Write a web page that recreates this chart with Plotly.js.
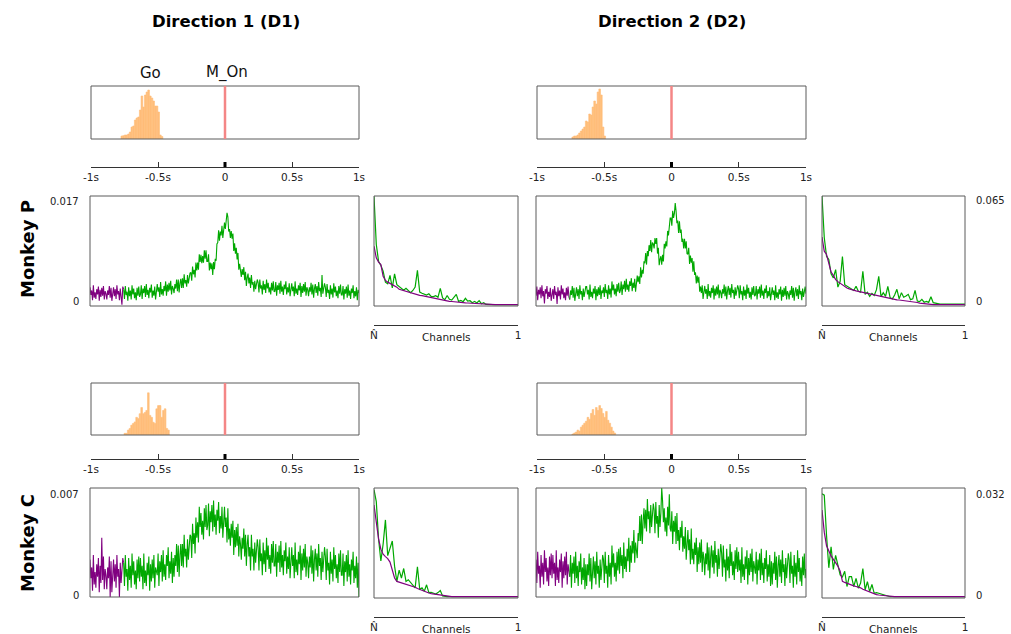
<!DOCTYPE html>
<html>
<head>
<meta charset="utf-8">
<script src="https://cdn.plot.ly/plotly-3.0.1.min.js"></script>
<style>
  html, body { margin: 0; padding: 0; background: #fff; }
  #chart { width: 1011px; height: 634px; }
</style>
</head>
<body>
<div id="chart"></div>
<script>
// ---------------------------------------------------------------
// Data (activity values are in units of 1e-3)
// ---------------------------------------------------------------
const moveOnset = 0;          // M_On, seconds
const baselineEnd = -0.75;    // end of the purple baseline window, seconds
const activityStep = 0.00625; // spacing of the activity samples, seconds
const binWidth = 0.0125;      // Go-cue histogram bin width, seconds
const timeTicks = [-1, -0.5, 0, 0.5, 1];
const timeTickText = ['-1s', '-0.5s', '0', '0.5s', '1s'];
const channelTickText = ['N\u0302', '1'];

// Go-cue time histograms (first bin centre, then counts per bin)
const histStarts = [-0.77, -0.734, -0.747, -0.734];
const histP1 = [3.0, 3.3, 4.0, 4.0, 5.0, 7, 12, 13, 19, 21, 22, 29, 43, 32, 44, 47, 49, 43, 41, 38, 33, 33, 27, 4, 2.5];
const histP2 = [2, 3, 3, 4, 6, 8, 10, 12, 18, 17, 25, 24, 32, 38, 35, 47, 50, 44, 12, 3];
const histC1 = [1.7, 1.7, 5, 6.7, 10, 11.7, 13.3, 18, 16.7, 21.7, 28, 21.7, 23, 25, 43, 20, 18, 13, 11.7, 26.7, 30, 30, 18, 25, 26.7, 6.7, 5];
const histC2 = [1, 2, 3, 5, 4, 8, 10, 12, 14, 18, 16, 22, 26, 20, 28, 25, 30, 27, 22, 18, 24, 15, 12, 8, 4, 2];

// Baseline activity, -1 s to -0.75 s
const baseP1 = [
  2.9, 1.7, 2.4, 0.9, 3.2, 1.3, 2.1, 1.1, 2.6, 1.8, 3.0, 0.8, 2.5, 1.4, 2.8, 1.6, 3.1, 1.0, 2.3, 1.9,
  1.0, 2.4, 1.7, 3.1, 1.3, 2.8, 0.8, 2.2, 2.9, 1.5, 2.6, 1.1, 3.2, 1.8, 2.3, 0.9, 2.7, 1.4, 0.2, 3.0,
  2.6
];
const baseP2 = [
  1.6, 3.0, 0.9, 2.5, 1.8, 2.9, 1.2, 3.2, 1.5, 2.3, 0.4, 2.6, 1.9, 3.1, 1.1, 2.2, 1.4, 2.8, 0.8, 2.4,
  2.6, 1.1, 3.1, 1.7, 2.2, 0.3, 2.9, 1.5, 2.4, 1.0, 3.2, 1.8, 2.7, 1.2, 2.1, 0.9, 2.8, 1.6, 3.0, 1.4,
  1.0
];
const baseC1 = [
  2.4, 1.2, 1.9, 0.4, 2.7, 0.8, 1.6, 0.6, 2.1, 1.3, 2.5, 0.3, 2.0, 0.9, 3.8, 1.1, 2.6, 0.5, 1.8, 1.4,
  0.5, 1.9, 1.2, 2.6, 0.0, 2.3, 0.3, 1.7, 2.4, 1.0, 2.1, 0.6, 2.7, 1.3, 1.8, 0.0, 2.2, 0.9, 2.0, 2.5,
  2.2
];
const baseC2 = [
  2.4, 0.9, 2.9, 1.5, 2.0, 0.6, 2.7, 1.3, 2.2, 0.8, 3.0, 1.6, 2.5, 1.0, 1.9, 0.7, 2.6, 1.4, 2.8, 1.2,
  2.7, 1.5, 2.2, 0.7, 3.0, 1.1, 1.9, 0.9, 2.4, 1.6, 2.8, 0.6, 2.3, 1.2, 2.6, 1.4, 2.9, 0.8, 2.1, 1.7,
  1.3
];

// Task activity, -0.75 s to 1 s (one row = 0.125 s)
const actP1 = [
  2.6, 1.1, 3.1, 1.7, 2.2, 0.8, 2.9, 1.5, 2.4, 1.0, 3.2, 1.8, 2.7, 1.2, 2.1, 0.9, 2.8, 1.6, 3.0, 1.4,
  1.8, 3.2, 1.1, 2.7, 2.0, 3.1, 1.4, 3.4, 1.7, 2.5, 1.2, 2.8, 2.1, 3.3, 1.3, 2.4, 1.6, 3.0, 1.0, 2.6,
  3.4, 2.2, 2.9, 1.4, 3.7, 1.8, 2.6, 1.6, 3.1, 2.3, 3.8, 1.6, 3.3, 2.2, 3.6, 2.4, 3.9, 1.8, 3.1, 2.7,
  2.0, 3.4, 2.7, 4.1, 2.3, 4.1, 2.1, 3.5, 4.2, 2.8, 4.3, 2.8, 4.9, 3.5, 4.0, 3.0, 4.8, 3.5, 4.6, 5.1,
  5.2, 3.9, 6.1, 4.9, 5.6, 4.4, 6.7, 5.5, 6.7, 5.6, 8.0, 6.8, 7.9, 6.6, 7.7, 6.7, 8.6, 7.3, 8.6, 6.9,
  6.9, 8.0, 5.5, 6.7, 5.7, 6.6, 4.8, 6.8, 5.7, 7.3, 7.0, 9.6, 9.8, 11.7, 10.1, 11.5, 10.9, 12.4, 10.5, 12.2,
  12.9, 11.9, 13.0, 14.4, 13.8, 11.5, 11.9, 10.5, 11.6, 10.4, 11.2, 8.5, 9.7, 8.1, 9.0, 7.2, 8.2, 5.6, 6.5, 5.7,
  4.5, 5.7, 4.8, 6.0, 4.0, 5.3, 3.1, 4.4, 5.0, 3.5, 4.4, 2.8, 4.8, 3.3, 3.7, 2.2, 3.9, 2.6, 3.6, 4.1,
  3.6, 2.1, 4.1, 2.7, 3.2, 1.8, 3.9, 2.5, 3.4, 2.0, 4.1, 2.7, 3.6, 2.1, 2.9, 1.8, 3.6, 2.4, 3.8, 2.2,
  2.3, 3.7, 1.6, 3.2, 2.5, 3.6, 1.9, 3.9, 2.2, 3.0, 1.7, 3.3, 2.6, 3.8, 1.8, 2.9, 2.1, 3.5, 1.5, 3.1,
  3.5, 2.3, 3.0, 1.5, 3.8, 1.9, 2.7, 1.7, 3.2, 2.4, 3.6, 1.4, 3.1, 2.0, 3.4, 2.2, 3.7, 1.6, 2.9, 2.5,
  1.5, 2.9, 2.2, 3.6, 1.8, 3.3, 1.3, 2.7, 3.4, 2.0, 3.1, 1.6, 3.7, 2.3, 2.8, 1.4, 4.8, 1.9, 3.0, 3.5,
  2.9, 1.4, 3.4, 2.0, 2.5, 1.1, 3.2, 1.8, 2.7, 1.3, 3.5, 2.1, 3.0, 1.5, 2.4, 1.2, 3.1, 1.9, 3.3, 1.7,
  1.7, 3.1, 1.0, 2.6, 1.9, 3.0, 1.3, 3.3, 1.6, 2.4, 1.1, 2.7, 2.0, 3.2, 1.2, 2.3, 1.5, 2.9, 0.9, 2.5,
  2.0
];
const actP2 = [
  1.0, 2.4, 1.7, 3.1, 1.3, 2.8, 0.8, 2.2, 2.9, 1.5, 2.6, 1.1, 3.2, 1.8, 2.3, 0.9, 2.7, 1.4, 2.5, 3.0,
  3.0, 1.8, 2.5, 1.0, 3.3, 1.4, 2.2, 1.2, 2.7, 1.9, 3.1, 0.9, 2.6, 1.5, 2.9, 1.7, 3.2, 1.1, 2.4, 2.0,
  2.9, 1.4, 3.4, 2.0, 2.5, 1.1, 3.2, 1.8, 2.7, 1.3, 3.8, 2.4, 3.3, 1.8, 2.7, 1.5, 3.4, 2.2, 3.6, 2.0,
  2.4, 3.8, 1.7, 3.3, 2.6, 3.9, 2.2, 4.2, 2.5, 3.3, 2.2, 3.8, 3.1, 4.3, 2.3, 3.6, 2.8, 4.2, 2.2, 3.8,
  4.7, 3.7, 4.6, 3.4, 6.0, 4.4, 5.6, 5.0, 6.9, 6.6, 8.2, 6.4, 8.5, 7.7, 9.4, 8.5, 10.2, 8.3, 9.8, 9.6,
  8.9, 10.5, 9.6, 10.5, 8.1, 9.0, 6.3, 7.2, 7.7, 6.4, 7.9, 6.9, 9.6, 8.9, 10.0, 9.2, 11.6, 10.9, 12.6, 13.6,
  13.6, 12.4, 14.7, 13.6, 14.3, 15.9, 14.7, 12.8, 13.2, 11.3, 13.1, 11.3, 11.8, 9.9, 10.4, 8.9, 10.4, 8.9, 10.0, 8.1,
  8.0, 9.0, 6.5, 7.8, 6.7, 7.4, 5.3, 6.9, 4.8, 5.2, 3.5, 4.7, 3.6, 4.5, 2.2, 3.0, 2.0, 3.2, 1.1, 2.6,
  3.1, 1.9, 2.6, 1.1, 3.4, 1.5, 2.3, 1.3, 2.8, 2.0, 3.2, 1.0, 2.7, 1.6, 3.0, 1.8, 3.3, 1.2, 2.5, 2.1,
  1.2, 2.6, 1.9, 3.3, 1.5, 3.0, 1.0, 2.4, 3.1, 1.7, 2.8, 1.3, 3.4, 2.0, 2.5, 1.1, 2.9, 1.6, 2.7, 3.2,
  2.7, 1.2, 3.2, 1.8, 2.3, 0.9, 3.0, 1.6, 2.5, 1.1, 3.3, 1.9, 2.8, 1.3, 2.2, 1.0, 2.9, 1.7, 3.1, 1.5,
  1.7, 3.1, 1.0, 2.6, 1.9, 3.0, 1.3, 3.3, 1.6, 2.4, 1.1, 2.7, 2.0, 3.2, 1.2, 2.3, 1.5, 2.9, 0.9, 2.5,
  2.9, 1.7, 2.4, 0.9, 3.2, 1.3, 2.1, 1.1, 2.6, 1.8, 3.0, 0.8, 2.5, 1.4, 2.8, 1.6, 3.1, 1.0, 2.3, 1.9,
  1.0, 2.4, 1.7, 3.1, 1.3, 2.8, 0.8, 2.2, 2.9, 1.5, 2.6, 1.1, 3.2, 1.8, 2.3, 0.9, 2.7, 1.4, 2.5, 3.0,
  1.9
];
const actC1 = [
  2.2, 0.7, 2.7, 1.3, 1.8, 0.4, 2.5, 1.1, 2.0, 0.6, 2.8, 1.4, 2.3, 0.8, 1.7, 0.5, 2.4, 1.2, 2.6, 1.0,
  2.5, 1.3, 2.0, 0.5, 2.8, 0.9, 1.7, 0.7, 2.2, 1.4, 2.6, 0.4, 2.1, 1.0, 2.4, 1.2, 2.7, 0.6, 1.9, 1.5,
  1.4, 2.8, 0.7, 2.3, 1.6, 2.7, 1.0, 3.0, 1.3, 2.1, 1.1, 2.7, 2.0, 3.2, 1.2, 2.3, 1.5, 2.9, 0.9, 2.5,
  1.3, 2.7, 2.0, 3.4, 1.6, 3.3, 1.3, 2.7, 3.4, 2.0, 3.4, 1.9, 4.0, 2.6, 3.1, 1.9, 3.7, 2.4, 3.5, 4.0,
  3.9, 2.5, 4.7, 3.4, 4.1, 2.8, 5.1, 3.8, 4.8, 3.5, 5.8, 4.5, 5.4, 4.0, 4.9, 3.7, 5.7, 4.5, 5.9, 4.3,
  4.6, 6.0, 3.9, 5.5, 4.8, 5.9, 4.2, 6.2, 4.5, 5.3, 4.0, 5.6, 4.9, 6.1, 4.1, 5.2, 4.4, 5.8, 3.8, 5.4,
  5.8, 4.5, 5.1, 3.5, 5.7, 3.7, 4.4, 3.3, 4.7, 3.8, 4.9, 2.7, 4.3, 3.2, 4.5, 3.3, 4.7, 2.6, 3.9, 3.4,
  2.4, 3.8, 3.1, 4.4, 2.6, 4.0, 2.0, 3.4, 4.0, 2.6, 3.2, 1.7, 4.0, 2.6, 3.1, 1.7, 3.5, 2.2, 3.2, 3.7,
  3.2, 1.7, 3.7, 2.3, 2.8, 1.4, 3.5, 2.1, 3.0, 1.6, 3.8, 2.4, 3.3, 1.8, 2.7, 1.5, 3.4, 2.2, 3.6, 2.0,
  2.0, 3.4, 1.3, 2.9, 2.2, 3.3, 1.6, 3.6, 1.9, 2.7, 1.4, 3.0, 2.3, 3.5, 1.5, 2.6, 1.8, 3.2, 1.2, 2.8,
  3.2, 2.0, 2.7, 1.2, 3.5, 1.6, 2.4, 1.4, 2.9, 2.1, 3.3, 1.1, 2.8, 1.7, 3.1, 1.9, 3.4, 1.3, 2.6, 2.2,
  1.2, 2.6, 1.9, 3.3, 1.5, 3.0, 1.0, 2.4, 3.1, 1.7, 2.8, 1.3, 3.4, 2.0, 2.5, 1.1, 2.9, 1.6, 2.7, 3.2,
  2.6, 1.1, 3.1, 1.7, 2.2, 0.8, 2.9, 1.5, 2.4, 1.0, 3.2, 1.8, 2.7, 1.2, 2.1, 0.9, 2.8, 1.6, 3.0, 1.4,
  1.4, 2.8, 0.7, 2.3, 1.6, 2.7, 1.0, 3.0, 1.3, 2.1, 0.8, 2.4, 1.7, 2.9, 0.9, 2.0, 1.2, 2.6, 0.6, 2.2,
  0.0
];
const actC2 = [
  1.3, 2.7, 0.6, 2.2, 1.5, 2.6, 0.9, 2.9, 1.2, 2.0, 0.7, 2.3, 1.6, 2.8, 0.8, 1.9, 1.1, 2.5, 0.5, 2.1,
  0.7, 2.1, 1.4, 2.8, 1.0, 2.5, 0.5, 1.9, 2.6, 1.2, 2.3, 0.8, 2.9, 1.5, 2.0, 0.6, 2.4, 1.1, 2.2, 2.7,
  2.4, 0.9, 2.9, 1.5, 2.0, 0.6, 2.7, 1.3, 2.2, 0.8, 3.3, 1.9, 2.8, 1.3, 2.2, 1.0, 2.9, 1.7, 3.1, 1.5,
  3.2, 2.0, 2.7, 1.2, 3.5, 1.8, 2.6, 1.6, 3.1, 2.3, 3.8, 1.6, 3.3, 2.2, 3.6, 2.8, 4.3, 2.2, 3.5, 3.1,
  2.5, 4.1, 3.6, 5.2, 3.6, 5.3, 3.4, 4.9, 5.7, 4.4, 5.6, 4.2, 6.3, 5.0, 5.5, 4.1, 5.9, 4.5, 5.6, 6.0,
  5.6, 4.1, 6.1, 4.7, 5.2, 3.8, 5.9, 4.5, 5.4, 7.0, 6.2, 4.8, 5.7, 4.2, 5.1, 3.9, 5.8, 4.6, 6.6, 4.4,
  4.2, 5.5, 3.4, 4.9, 4.2, 5.2, 3.4, 5.4, 3.6, 4.3, 3.0, 4.5, 3.8, 4.9, 2.9, 3.9, 3.1, 4.5, 2.4, 4.0,
  4.3, 3.0, 3.7, 2.1, 4.4, 2.4, 3.1, 2.1, 3.5, 2.7, 3.8, 1.6, 3.2, 2.1, 3.5, 2.2, 3.7, 1.6, 2.9, 2.5,
  1.4, 2.8, 2.1, 3.5, 1.7, 3.2, 1.2, 2.6, 3.3, 1.9, 3.0, 1.5, 3.6, 2.2, 2.7, 1.3, 3.1, 1.8, 2.9, 3.4,
  2.8, 1.3, 3.3, 1.9, 2.4, 1.0, 3.1, 1.7, 2.6, 1.2, 3.4, 2.0, 2.9, 1.4, 2.3, 1.1, 3.0, 1.8, 3.2, 1.6,
  2.9, 1.7, 2.4, 0.9, 3.2, 1.3, 2.1, 1.1, 2.6, 1.8, 3.0, 0.8, 2.5, 1.4, 2.8, 1.6, 3.1, 1.0, 2.3, 1.9,
  1.5, 2.9, 0.8, 2.4, 1.7, 2.8, 1.1, 3.1, 1.4, 2.2, 0.9, 2.5, 1.8, 3.0, 1.0, 2.1, 1.3, 2.7, 0.7, 2.3,
  0.8, 2.2, 1.5, 2.9, 1.1, 2.6, 0.6, 2.0, 2.7, 1.3, 2.4, 0.9, 3.0, 1.6, 2.1, 0.7, 2.5, 1.2, 2.3, 2.8,
  2.4, 0.9, 2.9, 1.5, 2.0, 0.6, 2.7, 1.3, 2.2, 0.8, 3.0, 1.6, 2.5, 1.0, 1.9, 0.7, 2.6, 1.4, 2.8, 1.2,
  1.8
];

// Per-channel contributions, sorted from channel N-hat down to 1
const chanBaseP1 = [35, 28, 25.5, 24, 17, 14.5, 13.5, 12.8, 12, 11.5, 10.5, 9.2, 8.8, 8.4, 7.8, 7.2, 6.8, 6.5, 6.2, 5.9,
  5.6, 5.4, 5.1, 4.9, 4.6, 4.3, 4.0, 3.7, 3.3, 3.0, 2.6, 2.4, 2.2, 2.0, 1.9, 1.7, 1.6, 1.5, 1.3, 1.2,
  1.1, 1.0, 0.9, 0.7, 0.6, 0.4, 0.3, 0.2, 0.1, 0.05, 0, 0, 0, 0, 0, 0, 0, 0, 0, 0, 0, 0, 0, 0];
const chanActP1 = [64.8, 36, 26, 23.5, 20, 13.5, 12.5, 17.5, 10, 18.5, 12, 11, 9.5, 8.6, 9.8, 8.4, 7.2, 8.5, 10.5, 20.5,
  7.5, 6.8, 6.2, 5.8, 6.5, 5.0, 4.8, 5.4, 4.5, 9.8, 4.0, 3.0, 5.5, 3.2, 2.8, 4.2, 6.2, 2.0, 2.5, 1.8,
  3.8, 2.2, 2.4, 1.2, 2.0, 1.0, 2.4, 0.6, 1.2, 0.2, 0, 0, 0, 0, 0, 0, 0, 0, 0, 0, 0, 0, 0, 0];
const chanBaseP2 = [40.5, 32, 30, 25, 19.5, 17.5, 15, 13.8, 12.8, 11.8, 10.8, 10, 9.5, 9.0, 8.6, 8.3, 8.0, 7.7, 7.3, 7.0,
  6.6, 6.3, 6.0, 5.6, 5.3, 5.0, 4.7, 4.4, 4.1, 3.8, 3.6, 3.4, 3.1, 2.9, 2.8, 2.6, 2.5, 2.4, 2.3, 2.2,
  2.0, 1.7, 1.3, 0.9, 0.7, 0.5, 0.3, 0.2, 0.1, 0, 0, 0, 0, 0, 0, 0, 0, 0, 0, 0, 0, 0, 0, 0];
const chanActP2 = [65, 40, 29, 27, 18.5, 16, 21, 10.5, 14, 28.8, 12, 11, 10.5, 9.5, 8.5, 11, 8.0, 7.5, 20, 6.2,
  7.5, 5.0, 6.8, 5.5, 9.0, 17, 4.8, 7.2, 5.0, 11, 4.2, 3.5, 5.8, 9.2, 3.5, 7.2, 4.5, 5.2, 6.2, 3.0,
  3.5, 8.6, 2.2, 1.8, 3.2, 1.5, 2.0, 1.4, 4.7, 1.2, 0.8, 0.4, 0.4, 0.4, 0.4, 0.4, 0.4, 0.4, 0.4, 0.4, 0.4, 0.4, 0.4, 0.4];
const chanBaseC1 = [27, 22, 17, 14, 12.5, 11.8, 11.2, 10.2, 8.0, 5.5, 4.5, 4.3, 4.1, 3.9, 3.7, 3.6, 3.3, 3.1, 2.8, 2.4,
  2.1, 1.9, 1.6, 1.3, 1.1, 0.9, 0.8, 0.7, 0.5, 0.4, 0.2, 0.1, 0, 0, 0, 0, 0, 0, 0, 0,
  0, 0, 0, 0, 0, 0, 0, 0, 0, 0, 0, 0, 0, 0, 0, 0, 0, 0, 0, 0, 0, 0, 0, 0];
const chanActC1 = [31.5, 28, 17, 10.5, 15.5, 22.6, 12.1, 14, 16.4, 9, 4.5, 7.8, 5.5, 8.3, 4.5, 5.0, 4.2, 3.5, 2.6, 8.8,
  2.2, 2.6, 1.6, 3.5, 1.2, 1.3, 1.0, 0.8, 1.2, 1.8, 0.2, 0, 0, 0, 0, 0, 0, 0, 0, 0,
  0, 0, 0, 0, 0, 0, 0, 0, 0, 0, 0, 0, 0, 0, 0, 0, 0, 0, 0, 0, 0, 0, 0, 0];
const chanBaseC2 = [25.5, 19, 15, 13.2, 12.0, 11.0, 10.0, 9.0, 7.5, 4.5, 4.2, 3.9, 3.6, 3.4, 3.2, 3.0, 2.9, 2.6, 2.2, 1.9,
  1.6, 1.3, 1.1, 0.8, 0.6, 0.5, 0.4, 0.3, 0.2, 0.1, 0, 0, 0, 0, 0, 0, 0, 0, 0, 0,
  0, 0, 0, 0, 0, 0, 0, 0, 0, 0, 0, 0, 0, 0, 0, 0, 0, 0, 0, 0, 0, 0, 0, 0];
const chanActC2 = [30.3, 29.9, 18, 8.5, 14.7, 8.0, 12.2, 9.5, 6.4, 5.8, 7.5, 3.0, 5.9, 5.9, 3.0, 5.4, 2.5, 4.0, 8.3, 2.0,
  4.4, 1.5, 3.6, 1.0, 1.2, 1.0, 0.8, 0.5, 0.4, 0.2, 0, 0, 0, 0, 0, 0, 0, 0, 0, 0,
  0, 0, 0, 0, 0, 0, 0, 0, 0, 0, 0, 0, 0, 0, 0, 0, 0, 0, 0, 0, 0, 0, 0, 0];

// Axis limits (units of 1e-3) and their printed labels
const actMaxP = 17, actMaxC = 7;
const chanMaxP = 65, chanMaxC = 32;
const actLabelP = '0.017', actLabelC = '0.007';
const chanLabelP = '0.065', chanLabelC = '0.032';

// ---------------------------------------------------------------
// Page geometry (pixels in a 1011 x 634 page)
// ---------------------------------------------------------------
const W = 1011, H = 634;
const fx = v => v / W;
const fy = v => 1 - v / H;

const rowGeom = {
  P: { hist: [86, 139], ruler: 167, main: [196, 306], chan: [196, 306], chanRuler: 325 },
  C: { hist: [383, 435], ruler: 459, main: [488, 597], chan: [488, 598], chanRuler: 617 }
};
const colGeom = {
  D1: { hist: [91, 359], main: [90, 359], chan: [374, 518] },
  D2: { hist: [537, 806], main: [536, 806], chan: [822, 965] }
};

const panels = [
  { row: 'P', col: 'D1', hist: histP1, histStart: histStarts[0], base: baseP1, act: actP1, cBase: chanBaseP1, cAct: chanActP1, actMax: actMaxP, chanMax: chanMaxP },
  { row: 'P', col: 'D2', hist: histP2, histStart: histStarts[1], base: baseP2, act: actP2, cBase: chanBaseP2, cAct: chanActP2, actMax: actMaxP, chanMax: chanMaxP },
  { row: 'C', col: 'D1', hist: histC1, histStart: histStarts[2], base: baseC1, act: actC1, cBase: chanBaseC1, cAct: chanActC1, actMax: actMaxC, chanMax: chanMaxC },
  { row: 'C', col: 'D2', hist: histC2, histStart: histStarts[3], base: baseC2, act: actC2, cBase: chanBaseC2, cAct: chanActC2, actMax: actMaxC, chanMax: chanMaxC }
];

// ---------------------------------------------------------------
// Styles
// ---------------------------------------------------------------
const FONT = 'DejaVu Sans, Verdana, sans-serif';
const GREEN = 'rgb(0,168,0)';
const PURPLE = 'rgb(128,0,128)';
const ORANGE = 'rgb(255,190,122)';
const ONSET_RED = 'rgb(244,134,134)';
const FRAME = '#5a5a5a';
const RULER = '#333333';

const layout = {
  width: W, height: H,
  margin: { l: 0, r: 0, t: 0, b: 0 },
  paper_bgcolor: '#ffffff',
  plot_bgcolor: 'rgba(0,0,0,0)',
  showlegend: false,
  font: { family: FONT, size: 10, color: '#222' },
  shapes: [],
  annotations: []
};
const traces = [];

const suffix = k => (k === 1 ? '' : String(k));
const frame = k => ({
  type: 'rect', xref: 'x' + suffix(k) + ' domain', yref: 'y' + suffix(k) + ' domain',
  x0: 0, x1: 1, y0: 0, y1: 1, line: { color: FRAME, width: 1 }, fillcolor: 'rgba(0,0,0,0)'
});
const hidden = { visible: false, showgrid: false, zeroline: false, fixedrange: true };
const rulerAxis = {
  showline: true, linecolor: RULER, linewidth: 1,
  ticks: 'inside', ticklen: 5, tickwidth: 1, tickcolor: RULER,
  tickfont: { family: FONT, size: 10.5, color: '#222' },
  showgrid: false, zeroline: false, fixedrange: true
};

panels.forEach((p, gi) => {
  const r = rowGeom[p.row], c = colGeom[p.col];
  const kH = gi * 3 + 1, kM = gi * 3 + 2, kC = gi * 3 + 3;

  // Go-cue histogram with its time ruler underneath
  layout['xaxis' + suffix(kH)] = Object.assign({}, rulerAxis, {
    domain: [fx(c.hist[0]), fx(c.hist[1])], anchor: 'free', position: fy(r.ruler),
    range: [-1, 1], tickvals: timeTicks, ticktext: timeTickText
  });
  layout['yaxis' + suffix(kH)] = Object.assign({}, hidden, {
    domain: [fy(r.hist[1]), fy(r.hist[0])], range: [0, 53], anchor: 'x' + suffix(kH)
  });
  traces.push({
    type: 'bar', x0: p.histStart, dx: binWidth, y: p.hist, width: binWidth,
    marker: { color: ORANGE, line: { width: 0.6, color: ORANGE } },
    xaxis: 'x' + suffix(kH), yaxis: 'y' + suffix(kH), hoverinfo: 'skip'
  });
  layout.shapes.push(frame(kH));
  layout.shapes.push({
    type: 'line', xref: 'x' + suffix(kH), yref: 'y' + suffix(kH) + ' domain',
    x0: moveOnset, x1: moveOnset, y0: 0, y1: 1, line: { color: ONSET_RED, width: 2.5 }
  });
  layout.shapes.push({
    type: 'line', xref: 'x' + suffix(kH), yref: 'paper',
    x0: moveOnset, x1: moveOnset, y0: fy(r.ruler), y1: fy(r.ruler - 5), line: { color: '#000', width: 3 }
  });

  // Activity over time
  layout['xaxis' + suffix(kM)] = Object.assign({}, hidden, {
    domain: [fx(c.main[0]), fx(c.main[1])], range: [-1, 1], anchor: 'y' + suffix(kM)
  });
  layout['yaxis' + suffix(kM)] = Object.assign({}, hidden, {
    domain: [fy(r.main[1]), fy(r.main[0])], range: [0, p.actMax], anchor: 'x' + suffix(kM)
  });
  traces.push({
    type: 'scatter', mode: 'lines', x0: -1, dx: activityStep, y: p.base,
    line: { color: PURPLE, width: 1.1 }, xaxis: 'x' + suffix(kM), yaxis: 'y' + suffix(kM), hoverinfo: 'skip'
  });
  traces.push({
    type: 'scatter', mode: 'lines', x0: baselineEnd, dx: activityStep, y: p.act,
    line: { color: GREEN, width: 1.1 }, xaxis: 'x' + suffix(kM), yaxis: 'y' + suffix(kM), hoverinfo: 'skip'
  });
  layout.shapes.push(frame(kM));

  // Channel contributions with the channel ruler underneath
  const nChan = p.cAct.length - 1;
  layout['xaxis' + suffix(kC)] = Object.assign({}, rulerAxis, {
    domain: [fx(c.chan[0]), fx(c.chan[1])], anchor: 'free', position: fy(r.chanRuler),
    range: [0, nChan], tickvals: [0, nChan], ticktext: channelTickText, ticklen: 4
  });
  layout['yaxis' + suffix(kC)] = Object.assign({}, hidden, {
    domain: [fy(r.chan[1]), fy(r.chan[0])], range: [-0.012 * p.chanMax, p.chanMax], anchor: 'x' + suffix(kC)
  });
  traces.push({
    type: 'scatter', mode: 'lines', x0: 0, dx: 1, y: p.cAct,
    line: { color: GREEN, width: 1.2 }, xaxis: 'x' + suffix(kC), yaxis: 'y' + suffix(kC), hoverinfo: 'skip'
  });
  traces.push({
    type: 'scatter', mode: 'lines', x0: 0, dx: 1, y: p.cBase,
    line: { color: PURPLE, width: 1.2 }, xaxis: 'x' + suffix(kC), yaxis: 'y' + suffix(kC), hoverinfo: 'skip'
  });
  layout.shapes.push(frame(kC));
  layout.annotations.push({
    xref: 'paper', yref: 'paper', x: fx((c.chan[0] + c.chan[1]) / 2), y: fy(r.chanRuler + 12),
    text: 'Channels', showarrow: false, xanchor: 'center', yanchor: 'middle',
    font: { family: FONT, size: 10.5, color: '#222' }
  });
});

// Text labels
const label = (text, x, y, opts) => Object.assign({
  xref: 'paper', yref: 'paper', x: fx(x), y: fy(y), text: text, showarrow: false,
  xanchor: 'center', yanchor: 'middle', font: { family: FONT, size: 10, color: '#222' }
}, opts || {});

layout.annotations.push(
  label('Direction 1 (D1)', 226, 21, { font: { family: FONT, size: 16.5, color: '#000', weight: 'bold' } }),
  label('Direction 2 (D2)', 672, 21, { font: { family: FONT, size: 16.5, color: '#000', weight: 'bold' } }),
  label('Go', 150, 73, { font: { family: FONT, size: 15, color: '#111' } }),
  label('M_On', 227, 73, { font: { family: FONT, size: 15, color: '#111' } }),
  label('Monkey P', 27, 249, { textangle: -90, font: { family: FONT, size: 18, color: '#000', weight: 'bold' } }),
  label('Monkey C', 27, 543, { textangle: -90, font: { family: FONT, size: 18, color: '#000', weight: 'bold' } }),
  label(actLabelP, 81, 201, { xanchor: 'right' }),
  label('0', 81, 302, { xanchor: 'right' }),
  label(actLabelC, 81, 494, { xanchor: 'right' }),
  label('0', 81, 595, { xanchor: 'right' }),
  label(chanLabelP, 974, 200, { xanchor: 'left' }),
  label('0', 974, 302, { xanchor: 'left' }),
  label(chanLabelC, 974, 494, { xanchor: 'left' }),
  label('0', 974, 595, { xanchor: 'left' })
);

Plotly.newPlot('chart', traces, layout, { staticPlot: true, displayModeBar: false });
</script>
</body>
</html>
